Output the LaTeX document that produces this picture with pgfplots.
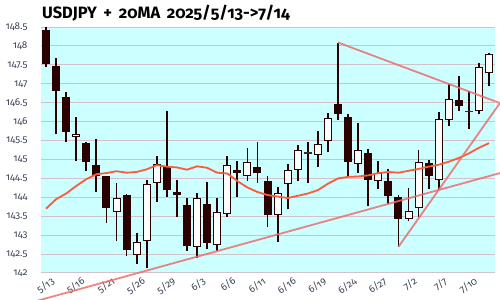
\documentclass[border=0pt]{standalone}
\usepackage{pgfplots}
\pgfplotsset{compat=1.18}
\usepackage{fontspec}
\setmainfont[Numbers=OldStyle]{Fira Sans}
\definecolor{bgc}{HTML}{CCFFFF}
\definecolor{dk}{HTML}{2B0000}
\definecolor{gridc}{HTML}{D2C2C8}
\definecolor{tickc}{HTML}{3C4458}
\definecolor{mac}{HTML}{FF5A3C}
\definecolor{trc}{HTML}{EE6E6E}
% candle: #1 index, #2 open, #3 high, #4 low, #5 close
\newcommand{\wick}[5]{\addplot[dk, line width=1.8bp, mark=none] coordinates {(#1,#4)(#1,#3)};}
\newcommand{\bear}[5]{\wick{#1}{#2}{#3}{#4}{#5}\addplot[dk, line width=8bp, mark=none] coordinates {(#1,#5)(#1,#2)};}
\newcommand{\bull}[5]{\wick{#1}{#2}{#3}{#4}{#5}\addplot[dk, line width=8bp, mark=none] coordinates {(#1,#2)(#1,#5)};
  \addplot[white, line width=6bp, mark=none, shorten <=1bp, shorten >=1bp] coordinates {(#1,#2)(#1,#5)};}
\begin{document}
\begin{tikzpicture}
\path[use as bounding box] (-41bp,-27bp) rectangle (459bp,273bp);
\begin{axis}[
  at={(0,0)}, anchor=south west,
  scale only axis, width=454bp, height=246bp,
  xmin=-0.5, xmax=44.59, ymin=142, ymax=148.5,
  clip=false,
  axis background/.style={fill=bgc},
  axis line style={draw=none},
  major tick length=0pt,
  ytick={142,142.5,...,148.5},
  yticklabels={142,142.5,143,143.5,144,144.5,145,145.5,146,146.5,147,147.5,148,148.5},
  xtick={0,3,...,42},
  xticklabels={5/13,5/16,5/21,5/26,5/29,6/3,6/6,6/11,6/16,6/19,6/24,6/27,7/2,7/7,7/10},
  ymajorgrids, xmajorgrids=false,
  major grid style={gridc, line width=1bp},
  tick label style={font=\fontsize{10}{12}\selectfont, text=tickc},
  yticklabel style={anchor=east, xshift=-10bp},
  xticklabel style={rotate=35, anchor=north east, yshift=-4bp, xshift=3bp, inner sep=1bp},
  /pgf/number format/assume math mode=true,
]
\bear{0}{148.43}{148.50}{147.44}{147.51}
\bear{1}{147.47}{147.68}{145.67}{146.82}
\bear{2}{146.65}{146.78}{145.47}{145.72}
\bull{3}{145.59}{146.12}{144.96}{145.66}
\bear{4}{145.43}{145.45}{144.70}{144.92}
\bear{5}{144.85}{145.54}{144.14}{144.57}
\bear{6}{144.56}{144.56}{143.33}{143.71}
\bull{7}{143.62}{144.39}{142.84}{143.99}
\bear{8}{144.05}{144.08}{142.44}{142.60}
\bull{9}{142.47}{143.06}{142.25}{142.82}
\bull{10}{142.85}{144.45}{142.12}{144.34}
\bull{11}{144.39}{145.10}{143.88}{144.88}
\bear{12}{144.79}{146.27}{144.01}{144.19}
\bear{13}{144.14}{144.45}{143.48}{144.07}
\bear{14}{143.79}{143.99}{142.58}{142.71}
\bull{15}{142.69}{144.11}{142.40}{143.99}
\bear{16}{143.81}{144.41}{142.64}{142.80}
\bull{17}{142.73}{143.97}{142.58}{143.62}
\bull{18}{143.57}{145.10}{143.48}{144.86}
\bear{19}{144.73}{144.95}{144.01}{144.65}
\bull{20}{144.55}{145.30}{144.43}{144.92}
\bear{21}{144.79}{145.45}{144.39}{144.63}
\bear{22}{144.43}{144.57}{143.21}{143.53}
\bull{23}{143.53}{144.26}{142.82}{144.12}
\bull{24}{144.34}{144.89}{143.68}{144.73}
\bull{25}{144.71}{145.38}{144.43}{145.26}
\wick{26}{145.18}{145.45}{144.39}{145.18}
\addplot[dk!70!gray, line width=1.8bp, mark=none] coordinates {(25.6,145.18)(26.4,145.18)};
\bull{27}{145.12}{145.76}{144.79}{145.42}
\bull{28}{145.48}{146.23}{145.19}{146.09}
\bear{29}{146.46}{148.09}{146.05}{146.19}
\bear{30}{146.12}{146.20}{144.57}{144.92}
\bull{31}{144.89}{145.96}{144.64}{145.26}
\bear{32}{145.16}{145.27}{143.77}{144.46}
\bull{33}{144.42}{144.95}{144.21}{144.65}
\bear{34}{144.42}{144.76}{143.81}{144.04}
\bear{35}{144.02}{144.05}{142.69}{143.44}
\bull{36}{143.43}{144.24}{143.37}{143.65}
\bull{37}{143.73}{145.25}{143.48}{144.92}
\bear{38}{144.90}{144.98}{144.21}{144.57}
\bull{39}{144.47}{146.25}{144.23}{146.07}
\bull{40}{146.05}{147.00}{145.89}{146.60}
\bear{41}{146.58}{147.20}{146.29}{146.41}
\wick{42}{146.27}{146.82}{145.81}{146.27}
\addplot[dk!70!gray, line width=1.8bp, mark=none] coordinates {(41.6,146.27)(42.4,146.27)};
\bull{43}{146.27}{147.56}{146.19}{147.44}
\bull{44}{147.28}{147.81}{146.93}{147.79}
% 20MA
\addplot[mac, line width=1.8bp, mark=none] coordinates {
(0,143.70)(1,143.95)(2,144.10)(3,144.30)(4,144.48)(5,144.61)(6,144.64)(7,144.69)(8,144.65)(9,144.67)
(10,144.74)(11,144.85)(12,144.81)(13,144.79)(14,144.73)(15,144.82)(16,144.78)(17,144.65)(18,144.63)(19,144.43)
(20,144.26)(21,144.14)(22,144.06)(23,144.02)(24,143.98)(25,144.04)(26,144.10)(27,144.19)(28,144.36)(29,144.50)
(30,144.54)(31,144.55)(32,144.58)(33,144.64)(34,144.67)(35,144.65)(36,144.70)(37,144.75)(38,144.81)(39,144.86)
(40,144.94)(41,145.04)(42,145.16)(43,145.31)(44,145.43)};
% trend lines
\addplot[trc, opacity=0.85, line width=1.8bp, mark=none] coordinates {(-1.5,141.22)(45.08,144.64)};
\addplot[trc, opacity=0.85, line width=1.8bp, mark=none] coordinates {(29,148.09)(45.08,146.49)(35,142.69)};
\end{axis}
\node[anchor=base west, font=\bfseries\fontsize{16.5}{19}\selectfont, text=black, inner sep=0pt] at (1bp,254.7bp) {USDJPY \,+\, 20MA \,2025/5/13->7/14};
\end{tikzpicture}
\end{document}
